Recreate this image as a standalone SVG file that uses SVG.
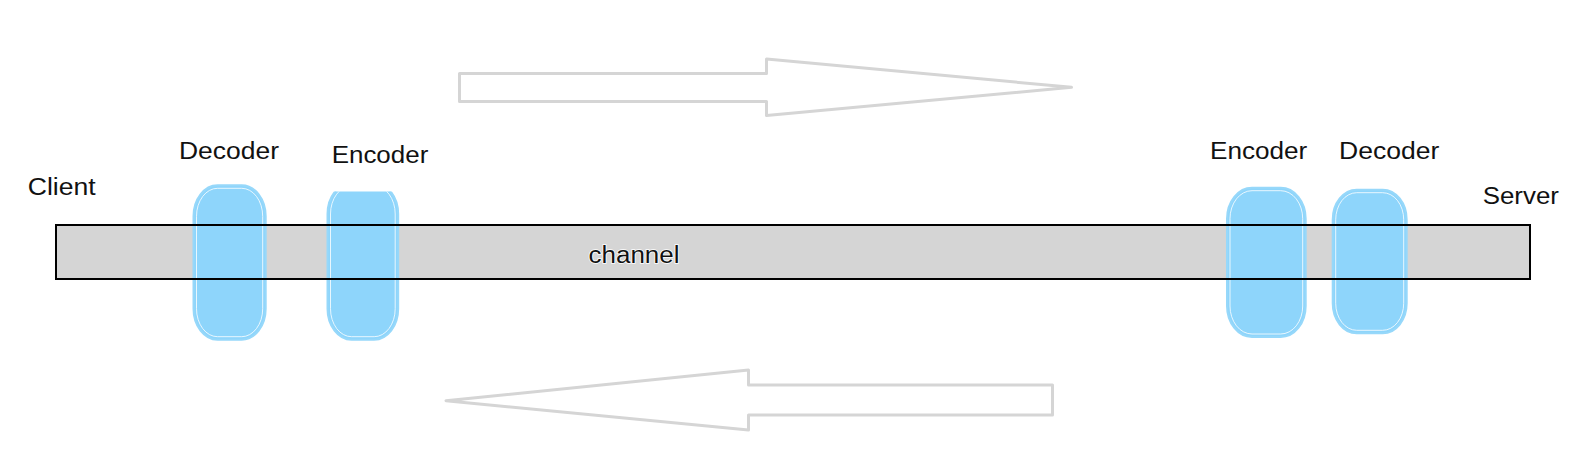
<svg xmlns="http://www.w3.org/2000/svg" width="1586" height="466" viewBox="0 0 1586 466">
<style>
.lbl{font-family:"Liberation Sans",Arial,sans-serif;font-size:23px;fill:#111}
.arrow{fill:#fff;stroke:#d5d5d5;stroke-width:3;stroke-linejoin:round}
.pill{fill:#8ed5fb;stroke:#97d8fa;stroke-width:2}
.pin{fill:none;stroke:#fff;stroke-width:0.8}
</style>
<defs>
<clipPath id="encClip"><rect x="300" y="191.5" width="130" height="160"/></clipPath>
</defs>
<rect width="1586" height="466" fill="#fff"/>
<g id="arrows">
<path class="arrow" d="M459.5,73.5 H766.5 V59 L1071.5,87.3 L766.5,115.5 V101.5 H459.5 Z"/>
<path class="arrow" d="M1052.5,385 H748.5 V370 L446,400.7 L748.5,430 V415 H1052.5 Z"/>
</g>
<g id="channel">
<rect x="56" y="225" width="1474" height="54" fill="#d5d5d5"/>
</g>
<g id="decoder-left">
<rect class="pill" x="193.5" y="185.3" width="72.2" height="154.4" rx="24" ry="31"/>
<rect class="pin" x="196.5" y="188.3" width="66.2" height="148.4" rx="21" ry="28"/>
</g>
<g id="encoder-left" clip-path="url(#encClip)">
<rect class="pill" x="327.5" y="183" width="70.7" height="156.7" rx="24" ry="31"/>
<rect class="pin" x="330.5" y="186" width="64.7" height="150.7" rx="21" ry="28"/>
</g>
<g id="encoder-right">
<rect class="pill" x="1227" y="187.7" width="78.7" height="149.3" rx="25" ry="31"/>
<rect class="pin" x="1230" y="190.7" width="72.7" height="143.3" rx="22" ry="28"/>
</g>
<g id="decoder-right">
<rect class="pill" x="1332.7" y="189.7" width="74" height="143.6" rx="24" ry="30"/>
<rect class="pin" x="1335.7" y="192.7" width="68" height="137.6" rx="21" ry="27"/>
</g>
<g id="channel-outline">
<rect x="56" y="225" width="1474" height="54" fill="none" stroke="#000" stroke-width="2"/>
<text class="lbl" x="588.5" y="263" textLength="91" lengthAdjust="spacingAndGlyphs" stroke="#fff" stroke-width="1.5" paint-order="stroke">channel</text>
</g>
<g id="labels">
<text class="lbl" x="27.7" y="195" textLength="68" lengthAdjust="spacingAndGlyphs">Client</text>
<text class="lbl" x="179" y="159.3" textLength="100" lengthAdjust="spacingAndGlyphs">Decoder</text>
<text class="lbl" x="331.7" y="163.3" textLength="96.6" lengthAdjust="spacingAndGlyphs">Encoder</text>
<text class="lbl" x="1210" y="159.3" textLength="97.3" lengthAdjust="spacingAndGlyphs">Encoder</text>
<text class="lbl" x="1339" y="159.3" textLength="100.3" lengthAdjust="spacingAndGlyphs">Decoder</text>
<text class="lbl" x="1482.7" y="204" textLength="76.3" lengthAdjust="spacingAndGlyphs">Server</text>
</g>
</svg>
